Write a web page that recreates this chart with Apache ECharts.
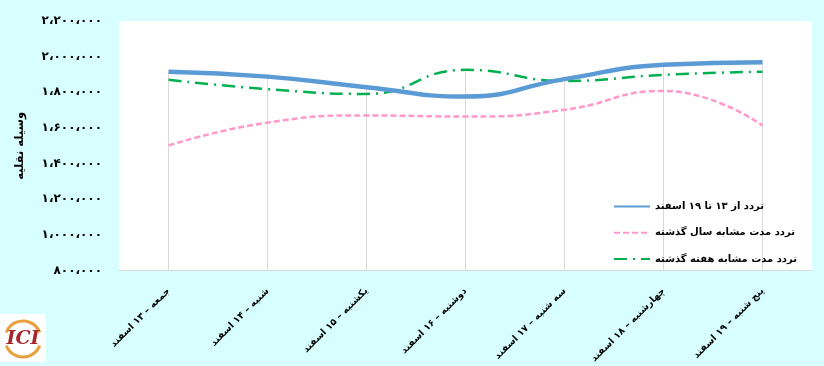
<!DOCTYPE html>
<html><head><meta charset="utf-8">
<script src="https://cdn.jsdelivr.net/npm/echarts@6/dist/echarts.min.js"></script>
<style>html,body{margin:0;padding:0;background:#d8ffff}#c{width:824px;height:366px}</style>
</head><body><div id="c"></div>
<script>
const categories = ['جمعه – ۱۳ اسفند', 'شنبه – ۱۴ اسفند', 'یکشنبه – ۱۵ اسفند', 'دوشنبه – ۱۶ اسفند', 'سه شنبه – ۱۷ اسفند', 'چهارشنبه – ۱۸ اسفند', 'پنج شنبه – ۱۹ اسفند'];
const seriesNames = ['تردد از ۱۳ تا ۱۹ اسفند', 'تردد مدت مشابه سال گذشته', 'تردد مدت مشابه هفته گذشته'];
const thisWeek = [1916000, 1888000, 1829000, 1776000, 1874000, 1954000, 1969000];
const lastYear = [1502000, 1630000, 1670000, 1664000, 1702000, 1808000, 1614000];
const lastWeek = [1870000, 1818000, 1791000, 1926000, 1864000, 1898000, 1916000];
const yTicks = [800000, 1000000, 1200000, 1400000, 1600000, 1800000, 2000000, 2200000];
const yTickLabels = ['۸۰۰،۰۰۰', '۱،۰۰۰،۰۰۰', '۱،۲۰۰،۰۰۰', '۱،۴۰۰،۰۰۰', '۱،۶۰۰،۰۰۰', '۱،۸۰۰،۰۰۰', '۲،۰۰۰،۰۰۰', '۲،۲۰۰،۰۰۰'];
const yAxisName = 'وسیله نقلیه';

const FONT = 'DejaVu Sans';
const dropTops = categories.map((c, i) => Math.max(thisWeek[i], lastYear[i], lastWeek[i]));

const chart = echarts.init(document.getElementById('c'), null, {renderer: 'canvas'});
chart.setOption({
  backgroundColor: '#d8ffff',
  animation: false,
  grid: {left: 119, right: 12, top: 21, bottom: 95, show: true, backgroundColor: '#ffffff', borderWidth: 0},
  legend: {
    orient: 'vertical', left: 613, top: 201, padding: 0, itemWidth: 36, itemHeight: 14, itemGap: 15,
    data: seriesNames.map(n => ({name: n, itemStyle: {opacity: 0}})),
    textStyle: {fontFamily: FONT, fontWeight: 'bold', fontSize: 10, color: '#000'}
  },
  xAxis: {
    type: 'category', data: categories, boundaryGap: true,
    axisLine: {lineStyle: {color: '#d9d9d9', width: 1}},
    axisTick: {show: false},
    axisLabel: {rotate: 45, margin: 19, interval: 0, fontFamily: FONT, fontWeight: 'bold', fontSize: 9.5, color: '#000'}
  },
  yAxis: {
    type: 'value', min: 800000, max: 2200000, interval: 200000,
    name: yAxisName, nameLocation: 'middle', nameGap: 93, nameRotate: 90,
    nameTextStyle: {fontFamily: FONT, fontWeight: 'bold', fontSize: 11.5, color: '#000'},
    axisLine: {show: false}, axisTick: {show: false}, splitLine: {show: false},
    axisLabel: {margin: 17, fontFamily: FONT, fontWeight: 'bold', fontSize: 12, color: '#000',
      formatter: v => { const i = yTicks.indexOf(v); return i >= 0 ? yTickLabels[i] : ''; }}
  },
  series: [
    {type: 'bar', data: dropTops, barWidth: 1, silent: true, z: 1, itemStyle: {color: '#d9d9d9'}},
    {name: seriesNames[0], type: 'line', data: thisWeek, smooth: 0.5, symbol: 'none', z: 5,
      lineStyle: {color: '#5b9bd5', width: 4.5}, itemStyle: {color: '#5b9bd5'}},
    {name: seriesNames[1], type: 'line', data: lastYear, smooth: 0.5, symbol: 'none', z: 3,
      lineStyle: {color: '#ff99cc', width: 2.5, type: [6, 3]}, itemStyle: {color: '#ff99cc'}},
    {name: seriesNames[2], type: 'line', data: lastWeek, smooth: 0.5, symbol: 'none', z: 4,
      lineStyle: {color: '#00b050', width: 2.5, type: [13, 6, 2, 6]}, itemStyle: {color: '#00b050'}}
  ],
  graphic: [{
    type: 'group', left: 0, top: 314, children: [
      {type: 'rect', shape: {x: 0, y: 0, width: 46, height: 48}, style: {fill: '#ffffff'}},
      {type: 'arc', shape: {cx: 23, cy: 25, r: 18, startAngle: Math.PI * 1.12, endAngle: Math.PI * 1.88}, style: {stroke: '#e8a03c', lineWidth: 3, fill: null}},
      {type: 'arc', shape: {cx: 23, cy: 25, r: 18, startAngle: Math.PI * 0.12, endAngle: Math.PI * 0.88}, style: {stroke: '#e8a03c', lineWidth: 3, fill: null}},
      {type: 'text', style: {x: 23, y: 25, text: 'ICI', align: 'center', verticalAlign: 'middle', fill: '#a8262b', font: 'italic bold 19px "DejaVu Serif"'}}
    ]
  }]
});
</script></body></html>
